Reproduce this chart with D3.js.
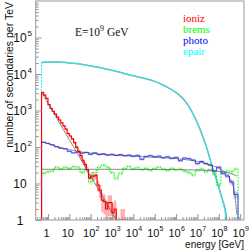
<!DOCTYPE html>
<html>
<head>
<meta charset="utf-8">
<script src="https://cdn.jsdelivr.net/npm/d3@7"></script>
<style>
  body { margin: 0; background: #fff; }
  svg { display: block; }
</style>
</head>
<body>
<svg id="chart"></svg>
<script>
// histogram binning (GeV): first bin edge and bins per decade
const binLo = 0.5;
const binsPerDecadeFine = 10;   // ioniz
const binsPerDecade = 5;        // brems, photo

// ioniz histogram (per bin, 0.1 decade from 0.5 GeV)
const ionizN = [3160, 2630, 2140, 1450, 1150, 955, 794, 661, 550, 457,
                380, 309, 234, 200, 166, 132, 98, 76, 58, 42,
                33, 24, 14, 16, 16, 17, 9, 6.6, 3.5, 3.2,
                2, 3, 3, 1.6, 2, 0, 0, 1, 1, 0];
// brems histogram (per bin, 0.2 decade from 0.5 GeV)
const bremsN = [19, 21, 22, 28, 25, 28, 26, 29, 28, 20,
                24, 11, 20, 28, 32, 28, 20, 14, 19, 26,
                29, 25, 27, 24, 26, 23, 26, 28, 25, 23,
                26, 24, 25, 22, 20, 17, 23, 25, 21, 24,
                18, 9, 20, 22, 21, 25];
// photo histogram (per bin, 0.2 decade from 0.5 GeV)
const photoN = [135, 126, 115, 102, 93, 89, 76, 69, 72, 68,
                71, 63, 69, 62, 65, 60, 63, 59, 62, 58,
                60, 56, 59, 46, 55, 58, 54, 56, 51, 54,
                49, 52, 42, 50, 48, 44, 35, 40, 35, 32,
                22, 28, 19, 16, 11, 5];
// epair (smooth, read at these energies)
const epairE = [0.5, 1, 3, 10, 30, 100, 300, 1e3, 1e4, 1e5,
                3e5, 1e6, 3e6, 1e7, 2e7, 3e7, 5e7, 1e8, 1.5e8, 2e8];
const epairN = [20700, 21400, 21400, 20000, 18800, 16600, 14800, 12600, 8900, 6300,
                4700, 3100, 1660, 450, 160, 78, 28, 7.4, 3.3, 1.7];

// fitted curves (dark grey)
const ionizFitE = [0.5, 10, 100, 1600];
const ionizFitN = [3160, 158, 15.8, 1];
const bremsFitE = [0.5, 1e3, 1e6, 1e7, 1e8, 3e8, 7e8];
const bremsFitN = [24.5, 24.5, 24, 23.5, 21.5, 19.5, 16];
const photoFitE = [0.5, 1, 3, 10, 30, 100, 1e3, 1e4, 1e5, 1e6,
                   1e7, 3e7, 1e8, 2e8, 3e8, 5e8, 6e8, 7e8];
const photoFitN = [138, 123, 100, 85, 74, 68, 60, 56, 52, 48,
                   40, 34, 26, 20, 15, 7.1, 3.5, 1.4];
const epairFitE = [0.5, 1, 3, 10, 30, 100, 300, 1e3, 1e4, 1e5,
                   3e5, 1e6, 3e6, 1e7, 2e7, 3e7, 5e7, 1e8, 1.5e8, 2e8, 2.35e8];
const epairFitN = [20700, 21400, 21400, 20000, 18800, 16600, 14800, 12600, 8900, 6300,
                   4700, 3100, 1660, 450, 160, 78, 28, 7.9, 3.5, 1.9, 1];

// axis ticks / labels
const xMajor = [1, 10, 1e2, 1e3, 1e4, 1e5, 1e6, 1e7, 1e8, 1e9];
const xLabelBase = ["1", "10", "10", "10", "10", "10", "10", "10", "10", "10"];
const xLabelExp = ["", "", "2", "3", "4", "5", "6", "7", "8", "9"];
const yMajor = [1, 10, 1e2, 1e3, 1e4, 1e5];
const yLabelBase = ["1", "10", "10", "10", "10", "10"];
const yLabelExp = ["", "", "2", "3", "4", "5"];

const legendNames = ["ioniz", "brems", "photo", "epair"];
const legendColors = ["#ff0000", "#00ff00", "#0000ff", "#00ffff"];

const width = 249, height = 250;
const pLeft = 35.7, pRight = 244, pTop = 1, pBottom = 220;

const svg = d3.select("#chart")
    .attr("width", width)
    .attr("height", height);

const x = d3.scaleLog().domain([0.266, 1.51e9]).range([pLeft, pRight]);
const y = d3.scaleLog().domain([1, 1e6]).range([pBottom, pTop]).clamp(true);

svg.append("clipPath").attr("id", "clip")
  .append("rect").attr("x", pLeft).attr("y", pTop)
  .attr("width", pRight - pLeft).attr("height", pBottom - pTop);

const plot = svg.append("g").attr("clip-path", "url(#clip)");

// bin edges helper
function edges(perDecade, n) {
  return d3.range(n + 1).map(i => binLo * Math.pow(10, i / perDecade));
}

function stepLine(vals, perDecade) {
  const e = edges(perDecade, vals.length);
  const pts = [[e[0], 1]];
  vals.forEach((v, i) => {
    pts.push([e[i], Math.max(v, 1)], [e[i + 1], Math.max(v, 1)]);
  });
  pts.push([e[vals.length], 1]);
  return pts;
}

const line = d3.line().x(d => x(d[0])).y(d => y(d[1]));
const smooth = d3.line().x(d => x(d[0])).y(d => y(d[1])).curve(d3.curveMonotoneX);

// error boxes (k scales the relative error)
function errBoxes(vals, perDecade, fill, k) {
  const e = edges(perDecade, vals.length);
  const hi = v => v * (1 + k / Math.sqrt(v));
  const lo = v => Math.max(v * (1 - k / Math.sqrt(v)), 1);
  plot.append("g").selectAll("rect")
    .data(vals.map((v, i) => ({v, e0: e[i], e1: e[i + 1]})).filter(d => d.v > 0))
    .join("rect")
    .attr("x", d => x(d.e0))
    .attr("width", d => x(d.e1) - x(d.e0))
    .attr("y", d => y(hi(d.v)))
    .attr("height", d => y(lo(d.v)) - y(hi(d.v)))
    .attr("fill", fill);
}

errBoxes(ionizN, binsPerDecadeFine, "#ffa8a8", 1);
errBoxes(bremsN, binsPerDecade, "#c8ffc8", 0.5);
errBoxes(photoN, binsPerDecade, "#c8c8ff", 0.5);

// epair: grey fit underneath, cyan histogram on top
const epairPts = epairE.map((e, i) => [e, epairN[i]]);
plot.append("path").datum(epairFitE.map((e, i) => [e, epairFitN[i]]))
  .attr("fill", "none").attr("stroke", "#444").attr("stroke-opacity", 0.55)
  .attr("stroke-width", 1.5).attr("d", smooth);
plot.append("path").datum(epairPts)
  .attr("fill", "none").attr("stroke", "#00ffff").attr("stroke-width", 0.9)
  .attr("d", smooth);
plot.append("path").datum([[epairE[0], 1], [epairE[0], epairN[0]]])
  .attr("fill", "none").attr("stroke", "#00ffff").attr("stroke-width", 1)
  .attr("stroke-dasharray", "2,1").attr("d", line);
plot.append("path").datum([[epairE[epairE.length - 1], epairN[epairN.length - 1]], [epairE[epairE.length - 1], 1]])
  .attr("fill", "none").attr("stroke", "#00ffff").attr("stroke-width", 1).attr("d", line);

// histograms
plot.append("path").datum(stepLine(bremsN, binsPerDecade))
  .attr("fill", "none").attr("stroke", "#00ee00").attr("stroke-width", 1)
  .attr("stroke-dasharray", "1.5,1.5").attr("d", line);
plot.append("path").datum(stepLine(photoN, binsPerDecade))
  .attr("fill", "none").attr("stroke", "#4848ff").attr("stroke-width", 1).attr("d", line);
plot.append("path").datum(stepLine(ionizN, binsPerDecadeFine))
  .attr("fill", "none").attr("stroke", "#ff0000").attr("stroke-width", 1.2).attr("d", line);

// fits for ioniz, brems, photo
[[ionizFitE, ionizFitN], [bremsFitE, bremsFitN], [photoFitE, photoFitN]]
  .forEach(([es, ns]) => {
    plot.append("path").datum(es.map((e, i) => [e, ns[i]]))
      .attr("fill", "none").attr("stroke", "#444").attr("stroke-opacity", 0.7)
      .attr("stroke-width", 0.9).attr("d", smooth);
  });

// axes
const xMinor = [];
const yMinor = [];
for (let d = -1; d <= 9; d++) {
  for (let m = 2; m <= 9; m++) {
    const v = m * Math.pow(10, d);
    if (v > x.domain()[0] && v < x.domain()[1]) xMinor.push(v);
    if (d >= 0 && d <= 5) yMinor.push(v);
  }
}

function styleAxis(g) {
  g.select(".domain").remove();
  g.selectAll("line").attr("stroke", "#999");
}

svg.append("g").attr("transform", `translate(0,${pBottom})`)
  .call(d3.axisBottom(x).tickValues(xMajor).tickSize(-6).tickFormat(""))
  .call(styleAxis);
svg.append("g").attr("transform", `translate(0,${pBottom})`)
  .call(d3.axisBottom(x).tickValues(xMinor).tickSize(-3).tickFormat(""))
  .call(styleAxis);
svg.append("g").attr("transform", `translate(${pLeft},0)`)
  .call(d3.axisLeft(y).tickValues(yMajor).tickSize(-6).tickFormat(""))
  .call(styleAxis);
svg.append("g").attr("transform", `translate(${pLeft},0)`)
  .call(d3.axisLeft(y).tickValues(yMinor).tickSize(-3).tickFormat(""))
  .call(styleAxis);

// frame
svg.append("rect")
  .attr("x", pLeft).attr("y", pTop)
  .attr("width", pRight - pLeft).attr("height", pBottom - pTop)
  .attr("fill", "none").attr("stroke", "#999").attr("stroke-width", 1);

// tick labels
const labelFont = "'Liberation Sans', Arial, sans-serif";
xMajor.forEach((v, i) => {
  svg.append("text").attr("x", x(v) - 1.5).attr("y", 236.5)
    .attr("text-anchor", "middle").attr("font-family", labelFont)
    .attr("font-size", 11).attr("fill", "#111").text(xLabelBase[i]);
  if (xLabelExp[i]) {
    svg.append("text").attr("x", x(v) + 4.8).attr("y", 230.5)
      .attr("font-family", labelFont).attr("font-size", 7)
      .attr("fill", "#111").text(xLabelExp[i]);
  }
});
yMajor.forEach((v, i) => {
  svg.append("text").attr("x", 20).attr("y", y(v) + 4.5)
    .attr("text-anchor", "middle").attr("font-family", labelFont)
    .attr("font-size", 12).attr("fill", "#111").text(yLabelBase[i]);
  if (yLabelExp[i]) {
    svg.append("text").attr("x", 27.5).attr("y", y(v) - 1.5)
      .attr("font-family", labelFont).attr("font-size", 8)
      .attr("fill", "#111").text(yLabelExp[i]);
  }
});

// axis titles
svg.append("text")
  .attr("transform", "translate(13,2) rotate(-90)")
  .attr("text-anchor", "end").attr("font-family", labelFont)
  .attr("font-size", 10.5).attr("fill", "#111")
  .text("number of secondaries per TeV");
svg.append("text").attr("x", pRight).attr("y", 248)
  .attr("text-anchor", "end").attr("font-family", labelFont)
  .attr("font-size", 10).attr("fill", "#111")
  .text("energy [GeV]");

// legend
const serif = "'Liberation Serif', 'Times New Roman', serif";
legendNames.forEach((n, i) => {
  svg.append("text").attr("x", 183).attr("y", 21.5 + i * 11.3)
    .attr("font-family", serif).attr("font-size", 11)
    .attr("fill", legendColors[i]).text(n);
});

// energy label
const eLab = svg.append("text").attr("x", 75).attr("y", 36)
  .attr("font-family", serif).attr("font-size", 11.5).attr("fill", "#111");
eLab.append("tspan").text("E=10");
eLab.append("tspan").attr("dy", -5).attr("font-size", 8).text("9");
eLab.append("tspan").attr("dy", 5).text(" GeV");
</script>
</body>
</html>
